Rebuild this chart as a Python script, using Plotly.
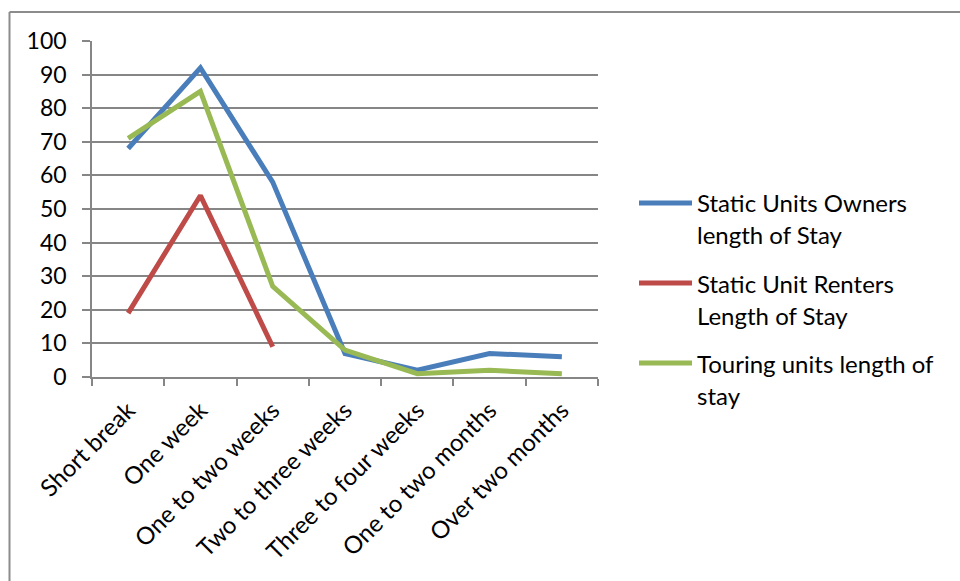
import plotly.graph_objects as go

# Length-of-stay categories
categories = [
    "Short break", "One week", "One to two weeks", "Two to three weeks",
    "Three to four weeks", "One to two months", "Over two months",
]

# Series values (percent)
owners = [68, 92, 58, 7, 2, 7, 6]
renters = [19, 54, 9, None, None, None, None]
touring = [71, 85, 27, 8, 1, 2, 1]

series_names = [
    "Static Units Owners length of Stay",
    "Static Unit Renters Length of Stay",
    "Touring units length of stay",
]
# Legend text, wrapped onto two lines per entry
legend_lines = [
    ("Static Units Owners", "length of Stay"),
    ("Static Unit Renters", "Length of Stay"),
    ("Touring units length of", "stay"),
]
series_colors = ["#4A7EBB", "#BE4B48", "#98B954"]
y_ticks = list(range(0, 101, 10))

FONT = "Lato, Carlito, Calibri, sans-serif"
GRID = "#868686"

W, H = 960, 581
L, R, T, B = 92, 362, 41, 204
pw, ph = W - L - R, H - T - B


def px_x(p):
    return (p - L) / pw


def px_y(p):
    return (H - B - p) / ph


fig = go.Figure()
for name, vals, col in zip(series_names, [owners, renters, touring], series_colors):
    fig.add_trace(go.Scatter(
        x=categories, y=vals, name=name, mode="lines",
        line=dict(color=col, width=5),
        connectgaps=False, showlegend=False,
    ))

# Outer frame (top and left edges)
fig.add_shape(type="line", xref="paper", yref="paper",
              x0=px_x(9.5), x1=px_x(962), y0=px_y(12), y1=px_y(12),
              line=dict(color="#8c8c8c", width=2))
fig.add_shape(type="line", xref="paper", yref="paper",
              x0=px_x(9.5), x1=px_x(9.5), y0=px_y(12), y1=px_y(585),
              line=dict(color="#8c8c8c", width=2))

# Legend drawn beside the plot
legend_rows = [(203, 235), (283, 315), (363, 395)]
for rows, lines, col in zip(legend_rows, legend_lines, series_colors):
    fig.add_shape(type="line", xref="paper", yref="paper",
                  x0=px_x(639), x1=px_x(692), y0=px_y(rows[0]), y1=px_y(rows[0]),
                  line=dict(color=col, width=5))
    for yy, txt in zip(rows, lines):
        fig.add_annotation(xref="paper", yref="paper",
                           x=px_x(695), y=px_y(yy),
                           xanchor="left", yanchor="middle", align="left",
                           text=txt, showarrow=False,
                           font=dict(family=FONT, size=24, color="#000000"))

fig.update_layout(
    width=W, height=H,
    margin=dict(l=L, r=R, t=T, b=B, pad=0),
    paper_bgcolor="white", plot_bgcolor="white",
    font=dict(family=FONT, size=24, color="#000000"),
)
fig.update_xaxes(
    type="category", categoryorder="array", categoryarray=categories,
    range=[-0.5, 6.5], tickson="boundaries", ticks="outside", ticklen=7,
    tickcolor=GRID, tickwidth=1.5, showgrid=False,
    showline=True, linecolor=GRID, linewidth=1.5,
    tickangle=-45, ticklabelstandoff=8,
    tickfont=dict(family=FONT, size=24, color="#000000"),
)
fig.update_yaxes(
    range=[0, 100], tickvals=y_ticks, ticks="outside", ticklen=8,
    tickcolor=GRID, tickwidth=1.5, showgrid=True, gridcolor=GRID, gridwidth=1.5,
    showline=True, linecolor=GRID, linewidth=1.5, zeroline=False,
    ticklabelstandoff=11,
    tickfont=dict(family=FONT, size=23, color="#000000"),
)

fig.write_html("out.html")
